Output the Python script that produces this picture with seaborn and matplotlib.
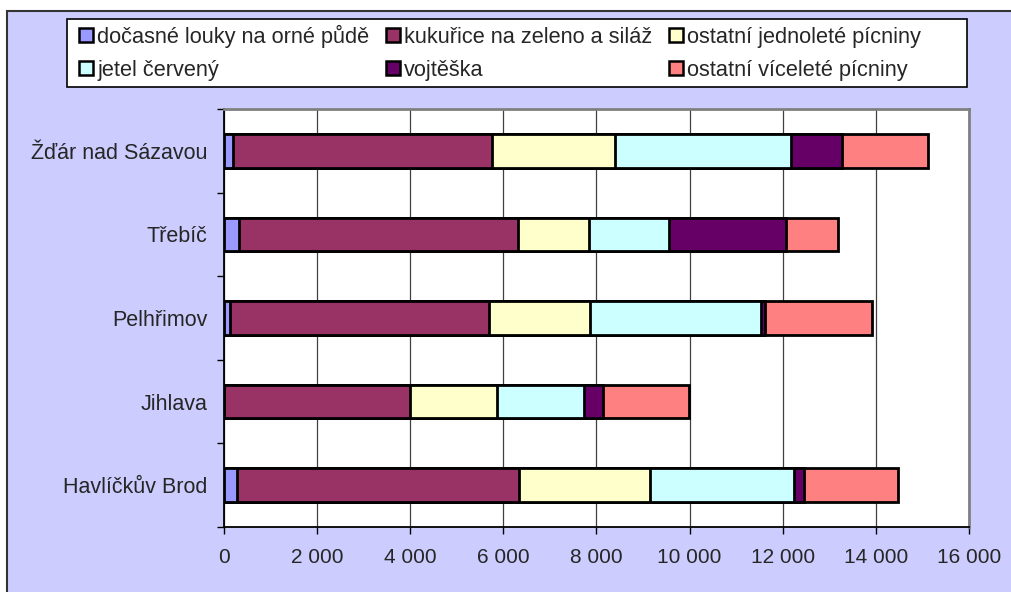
import matplotlib
matplotlib.use("Agg")
import matplotlib.pyplot as plt
from matplotlib.patches import Patch, Rectangle
from matplotlib.ticker import FuncFormatter, FixedLocator
import seaborn as sns
import pandas as pd
import numpy as np

# okresy (shora dolů)
okresy = ["Žďár nad Sázavou", "Třebíč", "Pelhřimov", "Jihlava", "Havlíčkův Brod"]
plodiny = ["dočasné louky na orné půdě", "kukuřice na zeleno a siláž",
           "ostatní jednoleté pícniny", "jetel červený", "vojtěška",
           "ostatní víceleté pícniny"]
barvy = ["#9999FF", "#993366", "#FFFFCC", "#CCFFFF", "#660066", "#FF8080"]

docasne_louky = [190, 315, 130, 0, 280]
kukurice = [5560, 5990, 5555, 3985, 6065]
jednolete = [2650, 1525, 2165, 1870, 2805]
jetel = [3780, 1720, 3690, 1870, 3085]
vojteska = [1095, 2520, 70, 410, 215]
vicelete = [1840, 1125, 2310, 1850, 2020]

df = pd.DataFrame({"okres": okresy,
                   plodiny[0]: docasne_louky, plodiny[1]: kukurice,
                   plodiny[2]: jednolete, plodiny[3]: jetel,
                   plodiny[4]: vojteska, plodiny[5]: vicelete})
kum = df[plodiny].cumsum(axis=1)

sns.set_style("white")
plt.rcParams['font.family'] = ['Liberation Sans', 'DejaVu Sans']

fig = plt.figure(figsize=(10.12, 5.92), dpi=100, facecolor="white")
# rámeček grafu
fig.patches.append(Rectangle((7 / 1012, -0.1), 1.2, 1.1 - 11 / 592,
                             transform=fig.transFigure, facecolor="#CCCCFF",
                             edgecolor="#333333", linewidth=1.5, zorder=-10))
# rámeček legendy
fig.patches.append(Rectangle((67 / 1012, 1 - 87 / 592), 900 / 1012, 68 / 592,
                             transform=fig.transFigure, facecolor="white",
                             edgecolor="black", linewidth=1.2, zorder=-5))
ax = fig.add_axes([224 / 1012, 1 - 527 / 592, (969 - 224) / 1012, (527 - 109) / 592])
ax.set_facecolor("white")

# skládané pruhy: kumulativní součty od nejdelšího
for i in range(len(plodiny) - 1, -1, -1):
    sns.barplot(x=kum[plodiny[i]], y=df["okres"], orient="h", order=okresy,
                color=barvy[i], saturation=1, width=0.4, edgecolor="black",
                linewidth=2, ax=ax, zorder=3)

ax.set_xlim(0, 16000)
ax.set_ylim(4.5, -0.5)
ax.set_xlabel("")
ax.set_ylabel("")
ax.xaxis.set_major_locator(FixedLocator(np.arange(0, 16001, 2000)))
ax.xaxis.set_major_formatter(FuncFormatter(lambda v, p: f"{int(v):,}".replace(",", " ")))
ax.grid(axis="x", color="#404040", linewidth=0.9, zorder=0)
ax.grid(axis="y", visible=False)
ax.set_axisbelow(True)
ax.tick_params(axis="x", direction="out", length=5, width=1, color="black",
               labelsize=15, pad=10, bottom=True)
ax.tick_params(axis="y", which="major", length=0, labelsize=15.5, pad=12)
ax.yaxis.set_minor_locator(FixedLocator(np.arange(-0.5, 5, 1)))
ax.tick_params(axis="y", which="minor", direction="out", length=5, width=1,
               color="black", left=True)
for s in ["left", "bottom"]:
    ax.spines[s].set_color("black")
    ax.spines[s].set_linewidth(1.3)
for s in ["top", "right"]:
    ax.spines[s].set_color("#808080")
    ax.spines[s].set_linewidth(2)

handles = [Patch(facecolor=barvy[i], edgecolor="black", linewidth=1.8, label=plodiny[i])
           for i in range(6)]
poradi = [0, 3, 1, 4, 2, 5]
leg = fig.legend([handles[i] for i in poradi], [plodiny[i] for i in poradi],
                 ncol=3, loc="upper left",
                 bbox_to_anchor=(72 / 1012, 1 - 18 / 592),
                 fontsize=15.7, handlelength=0.65, handleheight=0.65, handletextpad=0.2,
                 borderaxespad=0, borderpad=0.3, labelspacing=0.55, columnspacing=0.75,
                 frameon=False)

fig.savefig("out.png", dpi=100, facecolor=fig.get_facecolor())
